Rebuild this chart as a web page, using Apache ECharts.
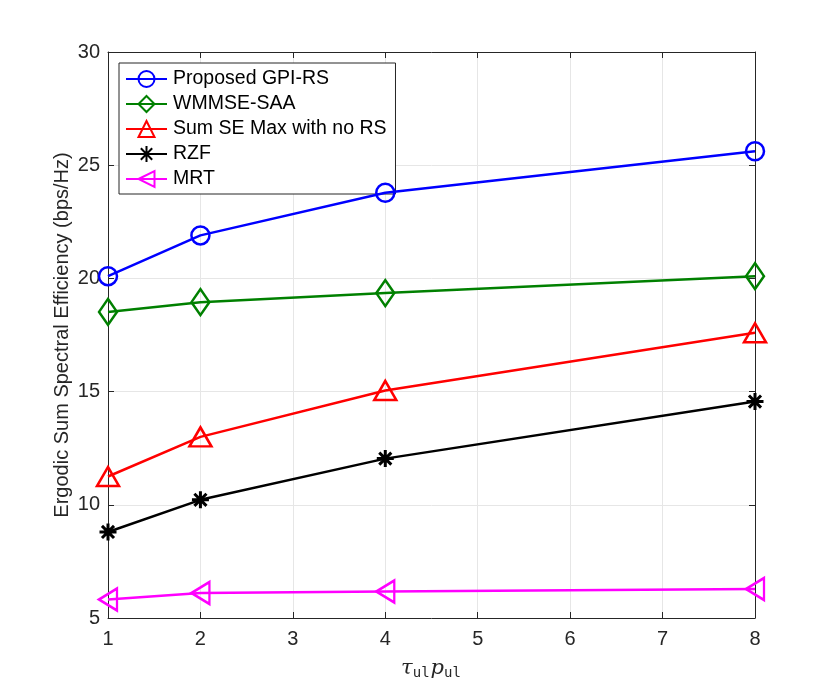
<!DOCTYPE html>
<html>
<head>
<meta charset="utf-8">
<script src="https://cdn.jsdelivr.net/npm/echarts@6/dist/echarts.min.js"></script>
<style>
html,body{margin:0;padding:0;background:#fff;}
#chart{width:834px;height:695px;}
</style>
</head>
<body>
<div id="chart"></div>
<script>
var xValues = [1, 2, 4, 8];
var seriesNames = ['Proposed GPI-RS', 'WMMSE-SAA', 'Sum SE Max with no RS', 'RZF', 'MRT'];
var gpiRS = [20.1, 21.9, 23.78, 25.62];
var wmmseSAA = [18.52, 18.95, 19.35, 20.1];
var sumSENoRS = [11.25, 13.0, 15.05, 17.6];
var rzf = [8.8, 10.22, 12.04, 14.56];
var mrt = [5.82, 6.1, 6.17, 6.28];
var xTicks = [1, 2, 3, 4, 5, 6, 7, 8];
var yTicks = [5, 10, 15, 20, 25, 30];

var colors = ['#0000ff', '#008000', '#ff0000', '#000000', '#ff00ff'];
var symbols = [
  'circle',
  'diamond',
  'triangle',
  'path://M10,0 L10,20 M0,10 L20,10 M2.9,2.9 L17.1,17.1 M2.9,17.1 L17.1,2.9',
  'path://M0,10 L17,0 L17,20 Z'
];
var sizes = [18, [18, 26], [22, 19], 17, [18, 22]];
var datas = [gpiRS, wmmseSAA, sumSENoRS, rzf, mrt];

function pairs(arr) { return xValues.map(function (x, i) { return [x, arr[i]]; }); }

var axisColor = '#262626';
var font = 'Liberation Sans, Arial, Helvetica, sans-serif';

var chart = echarts.init(document.getElementById('chart'), null, {renderer: 'canvas'});
var series = seriesNames.map(function (name, k) {
  return {
    name: name,
    type: 'line',
    data: pairs(datas[k]),
    xAxisIndex: 0,
    yAxisIndex: 0,
    symbol: symbols[k],
    symbolSize: sizes[k],
    showAllSymbol: true,
    animation: false,
    lineStyle: {color: colors[k], width: 2.5},
    itemStyle: {color: 'rgba(255,255,255,0)', borderColor: colors[k], borderWidth: k === 3 ? 3 : 2.5},
    emphasis: {disabled: true},
    z: 10 - k
  };
});

chart.setOption({
  animation: false,
  backgroundColor: '#ffffff',
  grid: {left: 108, right: 79, top: 52, bottom: 77, show: false},
  legend: {
    orient: 'vertical',
    left: 119,
    top: 63,
    width: 277,
    padding: [6, 9, 5, 6],
    itemGap: 5,
    itemWidth: 41,
    itemHeight: 20,
    backgroundColor: '#ffffff',
    borderColor: axisColor,
    borderWidth: 1,
    borderRadius: 0,
    data: seriesNames,
    textStyle: {fontFamily: font, fontSize: 19.5, color: '#000', lineHeight: 20, padding: [0, 0, 0, 1]}
  },
  xAxis: [{
    type: 'value',
    min: 1, max: 8, interval: 1,
    position: 'bottom',
    name: '{a|τ}{s|ul}{a|p}{s|ul}',
    nameLocation: 'middle',
    nameGap: 39,
    nameMoveOverlap: false,
    nameTextStyle: {
      rich: {
        a: {fontFamily: 'DejaVu Serif, Liberation Serif, serif', fontStyle: 'italic', fontSize: 21, color: axisColor},
        s: {fontFamily: 'DejaVu Sans Mono, Liberation Mono, monospace', fontSize: 14, color: axisColor, padding: [9, 1, 0, 0]}
      }
    },
    axisLine: {show: true, lineStyle: {color: axisColor, width: 1}},
    axisTick: {show: true, inside: true, length: 6, lineStyle: {color: axisColor}},
    axisLabel: {
      fontFamily: font, fontSize: 20, color: axisColor, margin: 11,
      formatter: function (v) { return xTicks.indexOf(v) >= 0 ? String(v) : ''; }
    },
    splitLine: {show: true, lineStyle: {color: '#e6e6e6', width: 1}}
  }, {
    type: 'value',
    min: 1, max: 8, interval: 1,
    position: 'top',
    axisLine: {show: true, lineStyle: {color: axisColor, width: 1}},
    axisTick: {show: true, inside: true, length: 6, lineStyle: {color: axisColor}},
    axisLabel: {show: false},
    splitLine: {show: false}
  }],
  yAxis: [{
    type: 'value',
    min: 5, max: 30, interval: 5,
    position: 'left',
    name: 'Ergodic Sum Spectral Efficiency (bps/Hz)',
    nameLocation: 'middle',
    nameGap: 36,
    nameMoveOverlap: false,
    nameTextStyle: {fontFamily: font, fontSize: 20, color: axisColor},
    axisLine: {show: true, lineStyle: {color: axisColor, width: 1}},
    axisTick: {show: true, inside: true, length: 6, lineStyle: {color: axisColor}},
    axisLabel: {
      fontFamily: font, fontSize: 20, color: axisColor, margin: 8,
      formatter: function (v) { return yTicks.indexOf(v) >= 0 ? String(v) : ''; }
    },
    splitLine: {show: true, lineStyle: {color: '#e6e6e6', width: 1}}
  }, {
    type: 'value',
    min: 5, max: 30, interval: 5,
    position: 'right',
    axisLine: {show: true, lineStyle: {color: axisColor, width: 1}},
    axisTick: {show: true, inside: true, length: 6, lineStyle: {color: axisColor}},
    axisLabel: {show: false},
    splitLine: {show: false}
  }],
  series: series
});
</script>
</body>
</html>
